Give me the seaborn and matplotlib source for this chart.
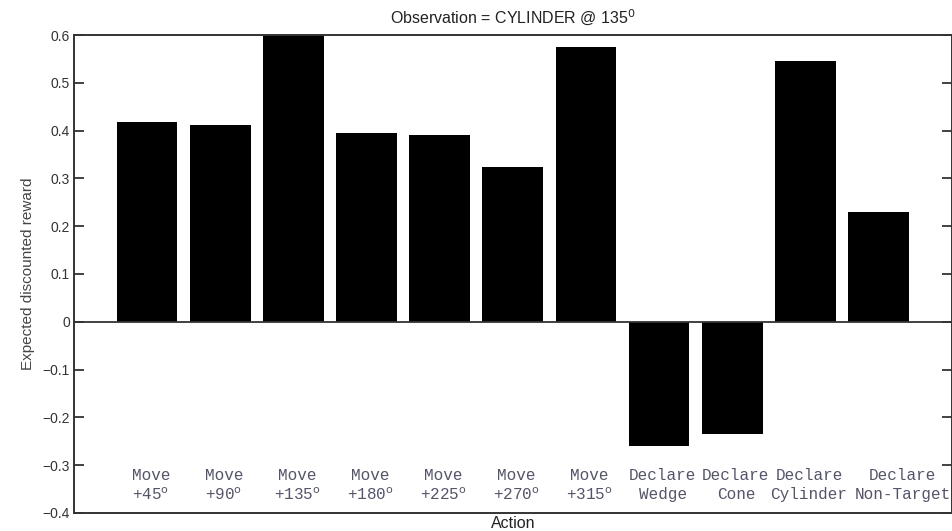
"""Bar chart: expected discounted reward per action, observation = CYLINDER @ 135."""

import matplotlib
matplotlib.use("Agg")
import matplotlib.pyplot as plt
import matplotlib.ticker as mticker
import pandas as pd
import seaborn as sns

actions_top = ["Move", "Move", "Move", "Move", "Move", "Move", "Move",
               "Declare", "Declare", "Declare", "Declare"]
actions_bottom = [r"+45$^{\rm o}$", r"+90$^{\rm o}$", r"+135$^{\rm o}$", r"+180$^{\rm o}$",
                  r"+225$^{\rm o}$", r"+270$^{\rm o}$", r"+315$^{\rm o}$",
                  "Wedge", "Cone", "Cylinder", "Non-Target"]
rewards = [0.419, 0.411, 0.60, 0.394, 0.390, 0.323, 0.574,
           -0.260, -0.235, 0.545, 0.229]
y_ticks = [-0.4, -0.3, -0.2, -0.1, 0, 0.1, 0.2, 0.3, 0.4, 0.5, 0.6]


def main():
    sns.set_theme(style="white")
    plt.rcParams["font.family"] = ["Liberation Sans", "DejaVu Sans"]
    plt.rcParams["mathtext.fontset"] = "custom"

    df = pd.DataFrame({
        "action": [f"{a} {b}" for a, b in zip(actions_top, actions_bottom)],
        "reward": rewards,
    })

    fig = plt.figure(figsize=(9.53, 5.31), dpi=100)
    ax = fig.add_axes([0.0776, 0.034, 0.921, 0.900])
    sns.barplot(data=df, x="action", y="reward", color="black", width=0.83,
                saturation=1, edgecolor="black", linewidth=0, ax=ax)

    ax.set_xlim(-1, 11)
    ax.set_ylim(-0.4, 0.6)
    ax.axhline(0, color="#333333", lw=1.3, zorder=3)

    ax.set_xticks([])
    ax.set_yticks(y_ticks)
    ax.yaxis.set_major_formatter(
        mticker.FuncFormatter(lambda v, p: f"{v:g}".replace("-", "\u2212")))
    ax.tick_params(axis="y", direction="in", length=7, width=1.3, color="#333333",
                   labelsize=10, labelcolor="#333333", right=True, left=True, pad=3)

    for s in ax.spines.values():
        s.set_visible(True)
        s.set_color("#333333")
        s.set_linewidth(1.4)

    # category labels sit inside the axes, like the original; the last one
    # is nudged right so it does not run into "Cylinder"
    n = len(actions_top)
    for i, (top, bot) in enumerate(zip(actions_top, actions_bottom)):
        x = i + 0.33 if i == n - 1 else i + 0.05
        ax.text(x, -0.321, top, ha="center", va="center", fontsize=11.5,
                family="Liberation Mono", color="#55556a")
        ax.text(x, -0.362, bot, ha="center", va="center", fontsize=11.5,
                family="Liberation Mono", color="#55556a")

    ax.set_xlabel("Action", fontsize=11.5, color="#222222")
    ax.xaxis.set_label_coords(0.5, -0.006)
    ax.set_ylabel("Expected discounted reward", fontsize=11, color="#444444", labelpad=5)
    ax.set_title(r"Observation = CYLINDER @ 135$^0$", fontsize=11.5, color="#222222", pad=9)

    fig.savefig("out.png", dpi=100)
    plt.close(fig)


if __name__ == "__main__":
    main()
